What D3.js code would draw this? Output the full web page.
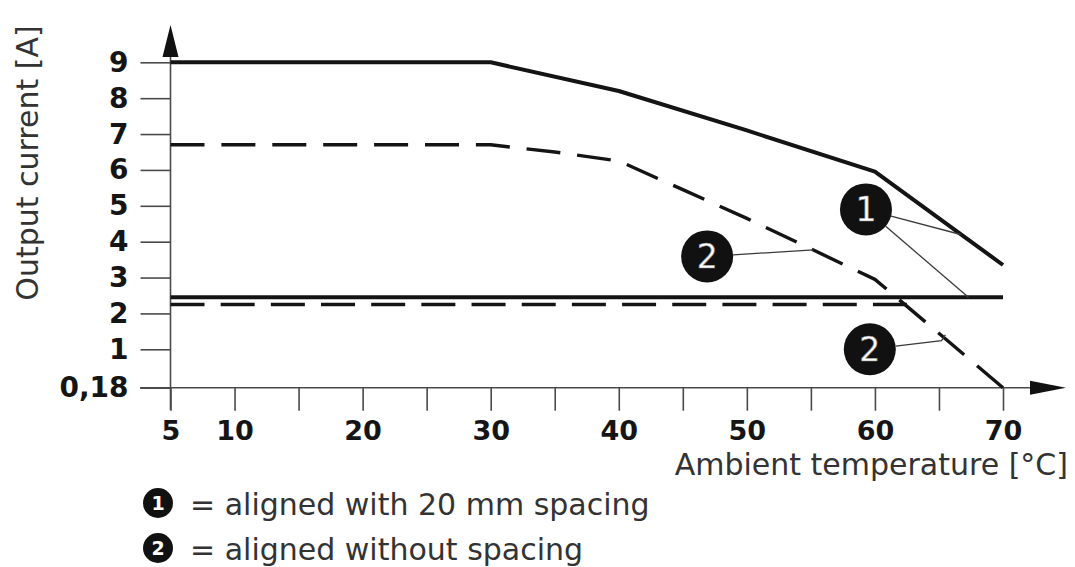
<!DOCTYPE html>
<html>
<head>
<meta charset="utf-8">
<script src="https://cdn.jsdelivr.net/npm/d3@7"></script>
<style>
body { margin: 0; background: #fff; }
svg text { font-family: "DejaVu Sans", "Liberation Sans", sans-serif; }
</style>
</head>
<body>
<div id="chart"></div>
<script>
//----------------------------- Data
// upper curves: 1 = aligned with 20 mm spacing (solid), 2 = without spacing (dashed)
var temps1 = [5, 30, 40, 50, 60, 70];
var current1 = [9, 9, 8.2, 7.1, 5.95, 3.35];
var temps2 = [5, 30, 35, 40, 45, 50, 55, 60, 62, 70];
var current2 = [6.7, 6.7, 6.5, 6.25, 5.45, 4.65, 3.8, 2.95, 2.35, 0.18];
// lower flat curves
var tempsLow1 = [5, 70];
var currentLow1 = [2.45, 2.45];
var tempsLow2 = [5, 62.5];
var currentLow2 = [2.25, 2.25];

var yTicks = [0.18, 1, 2, 3, 4, 5, 6, 7, 8, 9];
var yTickLabels = ["0,18", "1", "2", "3", "4", "5", "6", "7", "8", "9"];
var xTicks = [5, 10, 15, 20, 25, 30, 35, 40, 45, 50, 55, 60, 65, 70];
var xTickLabels = [5, 10, 20, 30, 40, 50, 60, 70];

// numbered markers and their leader lines (in chart units)
var markerLabels = ["1", "2", "2"];
var markerPos = [[59.3, 4.9], [46.9, 3.59], [59.6, 1.0]];
var leaders = [
    { from: 0, pts: [[66.7, 4.2]] },
    { from: 0, pts: [[67.3, 2.45]] },
    { from: 1, pts: [[55.2, 3.77]] },
    { from: 2, pts: [[65.2, 1.24], [65.5, 1.4]] }
];
var legendLabels = ["1", "2"];
var legendTexts = ["= aligned with 20 mm spacing", "= aligned without spacing"];

//----------------------------- Setup
var w = 1075;
var h = 567;
var svg = d3.select("#chart")
    .append("svg")
    .attr("width", w)
    .attr("height", h);

var x = d3.scaleLinear().domain([5, 70]).range([170.5, 1003]);
// 0,18 sits on the baseline, the rest is linear
var y = d3.scaleLinear().domain([0.18, 1, 9]).range([387.7, 349.3, 62.3]);

var axisColor = "#4a4a4a";
var textColor = "#333";

//----------------------------- Axes
var yAxis = d3.axisLeft(y)
    .tickValues(yTicks)
    .tickSize(30)
    .tickPadding(12)
    .tickFormat(function(d, i) { return yTickLabels[i]; });

var gy = svg.append("g")
    .attr("transform", "translate(" + x(5) + ",0)")
    .call(yAxis);

var xAxis = d3.axisBottom(x)
    .tickValues(xTicks)
    .tickSize(23)
    .tickPadding(10)
    .tickFormat(function(d) { return xTickLabels.indexOf(d) >= 0 ? d : ""; });

var gx = svg.append("g")
    .attr("transform", "translate(0," + y(0.18) + ")")
    .call(xAxis);

[gx, gy].forEach(function(g) {
    g.select(".domain").remove();
    g.selectAll(".tick line")
        .attr("stroke", axisColor)
        .attr("stroke-width", 1.6);
    g.selectAll(".tick text")
        .attr("fill", "#151515")
        .attr("font-size", "28px")
        .attr("font-weight", "bold")
        .attr("font-family", "DejaVu Sans, sans-serif");
});
gx.selectAll(".tick text").attr("font-size", "27px");

// axis lines with arrow heads
svg.append("line")
    .attr("x1", x(5)).attr("x2", x(5))
    .attr("y1", 410).attr("y2", 50)
    .attr("stroke", axisColor)
    .attr("stroke-width", 1.6);
svg.append("path")
    .attr("d", "M" + x(5) + ",25 L" + (x(5) + 8) + ",57 L" + (x(5) - 8) + ",57 Z")
    .attr("fill", "#111");

svg.append("line")
    .attr("x1", 140).attr("x2", 1036)
    .attr("y1", y(0.18)).attr("y2", y(0.18))
    .attr("stroke", axisColor)
    .attr("stroke-width", 1.6);
svg.append("path")
    .attr("d", "M1066," + y(0.18) + " L1030," + (y(0.18) - 7) + " L1030," + (y(0.18) + 7) + " Z")
    .attr("fill", "#111");

// axis titles
svg.append("text")
    .attr("transform", "translate(38,163) rotate(-90)")
    .attr("text-anchor", "middle")
    .attr("font-size", "30px")
    .attr("fill", textColor)
    .text("Output current [A]");

svg.append("text")
    .attr("x", 1068)
    .attr("y", 475)
    .attr("text-anchor", "end")
    .attr("font-size", "30px")
    .attr("fill", textColor)
    .text("Ambient temperature [°C]");

//----------------------------- Curves
function toPoints(ts, vs) {
    return ts.map(function(t, i) { return [t, vs[i]]; });
}

var line = d3.line()
    .x(function(d) { return x(d[0]); })
    .y(function(d) { return y(d[1]); });

var dashLen = 34;
var dashPeriod = 50;

function drawCurve(pts, dashed) {
    var path = svg.append("path")
        .datum(pts)
        .attr("d", line)
        .attr("fill", "none")
        .attr("stroke", "#141414")
        .attr("stroke-width", dashed ? 3.4 : 4)
        .attr("stroke-linejoin", "round");
    if (dashed) {
        // stretch the gaps a little so the curve starts and ends on a dash
        var L = path.node().getTotalLength();
        var n = Math.max(1, Math.round((L - dashLen) / dashPeriod));
        var gap = (L - dashLen) / n - dashLen;
        path.attr("stroke-dasharray", dashLen + "," + gap);
    }
}

drawCurve(toPoints(tempsLow2, currentLow2), true);
drawCurve(toPoints(tempsLow1, currentLow1), false);
drawCurve(toPoints(temps1, current1), false);
drawCurve(toPoints(temps2, current2), true);

//----------------------------- Markers
var r = 26;

leaders.forEach(function(l) {
    var c = markerPos[l.from];
    var cx = x(c[0]), cy = y(c[1]);
    var first = l.pts[0];
    var dx = x(first[0]) - cx, dy = y(first[1]) - cy;
    var len = Math.sqrt(dx * dx + dy * dy);
    var pts = [[cx + dx / len * r, cy + dy / len * r]];
    l.pts.forEach(function(p) { pts.push([x(p[0]), y(p[1])]); });
    svg.append("path")
        .attr("d", d3.line()(pts))
        .attr("fill", "none")
        .attr("stroke", "#3a3a3a")
        .attr("stroke-width", 1.3);
});

var markers = svg.selectAll(".marker")
    .data(markerPos)
    .enter()
    .append("g")
    .attr("class", "marker")
    .attr("transform", function(d) { return "translate(" + x(d[0]) + "," + y(d[1]) + ")"; });

markers.append("circle")
    .attr("r", r)
    .attr("fill", "#111");

markers.append("text")
    .attr("text-anchor", "middle")
    .attr("y", 12)
    .attr("font-size", "33px")
    .attr("font-family", "Liberation Sans, Arial, sans-serif")
    .attr("fill", "#fff")
    .attr("stroke", "#888")
    .attr("stroke-width", 0.6)
    .text(function(d, i) { return markerLabels[i]; });

//----------------------------- Legend
var legend = svg.selectAll(".legend")
    .data(legendTexts)
    .enter()
    .append("g")
    .attr("class", "legend")
    .attr("transform", function(d, i) { return "translate(158," + (503 + i * 45) + ")"; });

legend.append("circle")
    .attr("r", 15)
    .attr("fill", "#111");

legend.append("text")
    .attr("text-anchor", "middle")
    .attr("y", 7)
    .attr("font-size", "19px")
    .attr("font-weight", "bold")
    .attr("font-family", "Liberation Sans, Arial, sans-serif")
    .attr("fill", "#fff")
    .text(function(d, i) { return legendLabels[i]; });

legend.append("text")
    .attr("x", 32)
    .attr("y", 12)
    .attr("font-size", "30px")
    .attr("fill", textColor)
    .text(function(d) { return d; });
</script>
</body>
</html>
